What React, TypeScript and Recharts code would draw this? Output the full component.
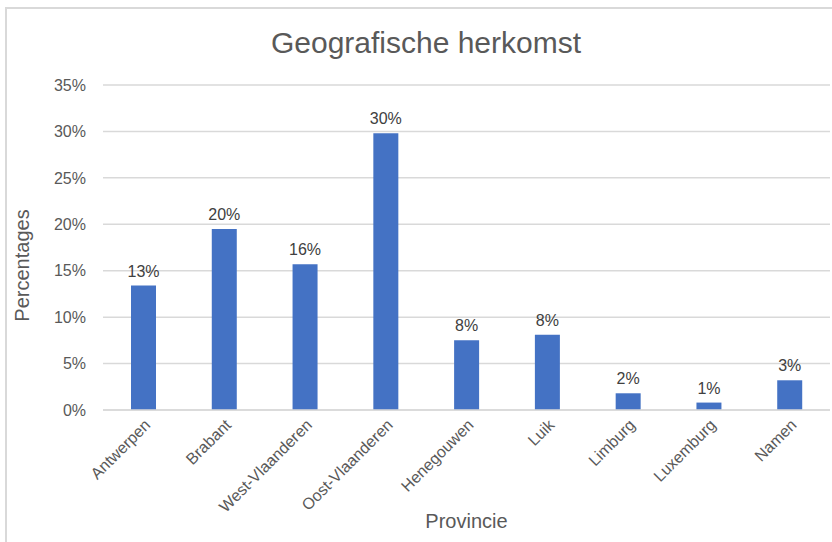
import { Bar, BarChart, CartesianGrid, LabelList, XAxis, YAxis } from "recharts";

const provinces = [
  "Antwerpen",
  "Brabant",
  "West-Vlaanderen",
  "Oost-Vlaanderen",
  "Henegouwen",
  "Luik",
  "Limburg",
  "Luxemburg",
  "Namen",
];
const shares = [13.4, 19.5, 15.7, 29.8, 7.5, 8.1, 1.8, 0.8, 3.2];
const yTicks = [0, 5, 10, 15, 20, 25, 30, 35];

const data = provinces.map((name, i) => ({ name, value: shares[i] }));

const FONT = "'Liberation Sans', Arial, sans-serif";
const GREY = "#595959";

export default function App() {
  return (
    <div
      style={{
        position: "relative",
        width: 832,
        height: 542,
        background: "#fff",
        fontFamily: FONT,
        overflow: "hidden",
      }}
    >
      <style>{`body{margin:0}`}</style>
      {/* frame of the original chart area */}
      <div
        style={{
          position: "absolute",
          left: 5,
          top: 7,
          right: 0,
          bottom: 0,
          borderLeft: "2px solid #d9d9d9",
          borderTop: "2px solid #d9d9d9",
        }}
      />
      <div
        style={{
          position: "absolute",
          top: 26,
          left: 226,
          width: 400,
          textAlign: "center",
          fontSize: 30,
          color: GREY,
        }}
      >
        Geografische herkomst
      </div>
      <div style={{ position: "absolute", left: 0, top: 0 }}>
        <BarChart
          width={832}
          height={542}
          data={data}
          margin={{ top: 85, right: 2, bottom: 0, left: 0 }}
        >
          <CartesianGrid
            vertical={false}
            stroke="#d9d9d9"
            strokeWidth={1.5}
          />
          <XAxis
            dataKey="name"
            interval={0}
            height={132}
            axisLine={{ stroke: "#d9d9d9", strokeWidth: 1.5 }}
            tickLine={false}
            tickMargin={2}
            tick={{ fontSize: 16, fill: GREY, fontFamily: FONT }}
            angle={-45}
            textAnchor="end"
            label={{
              value: "Provincie",
              position: "insideBottom",
              offset: 14,
              fontSize: 20,
              fill: GREY,
              fontFamily: FONT,
            }}
          />
          <YAxis
            width={103}
            domain={[0, 35]}
            ticks={yTicks}
            interval={0}
            axisLine={false}
            tickLine={false}
            tickMargin={11}
            tickFormatter={(v) => `${v}%`}
            tick={{ fontSize: 16, fill: GREY, fontFamily: FONT }}
            label={{
              value: "Percentages",
              angle: -90,
              position: "insideLeft",
              offset: 22,
              dy: 18,
              fontSize: 20,
              fill: GREY,
              fontFamily: FONT,
              style: { textAnchor: "middle" },
            }}
          />
          <Bar
            dataKey="value"
            fill="#4472c4"
            barSize={25}
            isAnimationActive={false}
          >
            <LabelList
              dataKey="value"
              position="top"
              offset={9}
              formatter={(v: number) => `${Math.round(v)}%`}
              style={{ fontSize: 16, fill: "#404040", fontFamily: FONT }}
            />
          </Bar>
        </BarChart>
      </div>
    </div>
  );
}
